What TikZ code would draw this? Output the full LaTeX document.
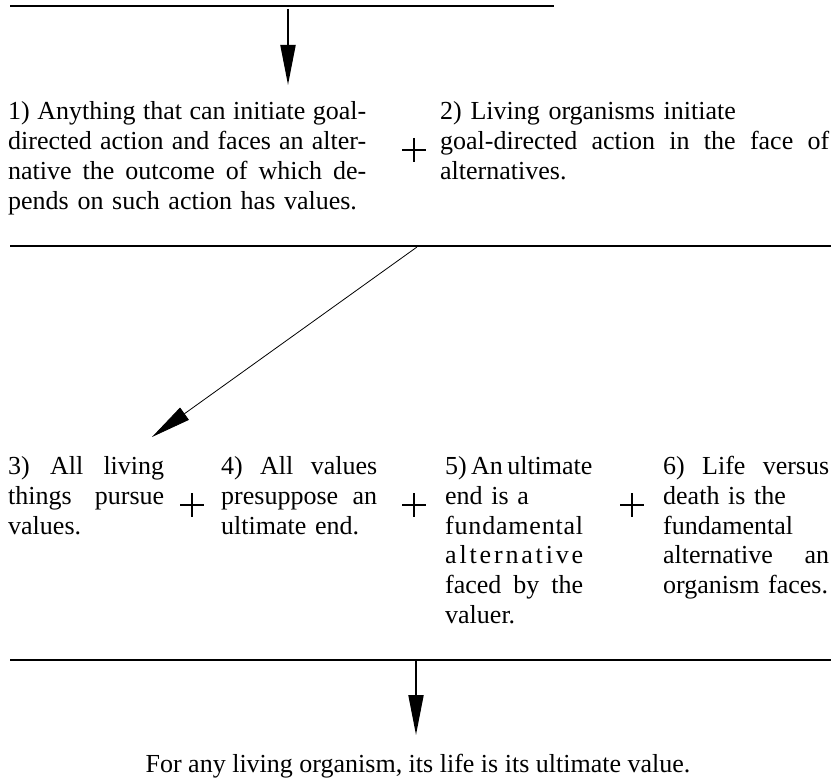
\documentclass[tikz,border=0pt]{standalone}
\usepackage{fontspec}
\setmainfont{Liberation Serif}
\usetikzlibrary{arrows.meta, positioning}

\newcommand{\jl}[1]{\makebox[\hsize][s]{\spaceskip=0pt\xspaceskip=0pt #1}}

\begin{document}
\begin{tikzpicture}[x=1pt, y=-1pt,
      t/.style={anchor=base west, inner sep=0pt, align=left, font=\fontsize{26}{30}\selectfont},
      bar/.style={line width=2pt},
      arr/.style={line width=2pt, -{Triangle[length=40pt,width=15pt]}},
      pl/.style={line width=1.8pt}]
      \useasboundingbox (0,0) rectangle (831,778);

      \draw[bar] (10,6) coordinate (b1l) -- (554,6) coordinate (b1r);
      \draw node[t, text width=358pt] (p1) at (8,120) {\jl{1) Anything that can initiate goal-}\\
        \jl{directed action and faces an alter-}\\
        \jl{native the outcome of which de-}\\
        pends on such action has values.};
      \draw node[t, text width=389pt] (p2) at (440,120) {2) Living organisms initiate\\
        \jl{goal-directed action in the face of}\\
        alternatives.};
      \coordinate (a1) at (288,9);
      \coordinate (a1e) at (288,85);
      \draw[arr] (a1) -- (a1e);

      \draw[bar] (10,246) coordinate (b2l) -- (831,246) coordinate (b2r);
      \coordinate (a2) at (417,247);
      \coordinate (a2e) at (152,437);
      \draw[arr, line width=0.8pt] (a2) -- (a2e);

      \draw node[t, text width=156pt] (p3) at (8,474) {\jl{3) All living}\\
        \jl{things pursue}\\
        values.};
      \draw node[t, text width=156pt] (p4) at (221,474) {\jl{4) All values}\\
        \jl{presuppose an}\\
        ultimate end.};
      \draw node[t, text width=138pt] (p5) at (445,474) {\jl{5) An ultimate}\\
        end is a\\
        \jl{f\hfil u\hfil n\hfil d\hfil a\hfil m\hfil e\hfil n\hfil t\hfil a\hfil l}\\
        \jl{a\hfil l\hfil t\hfil e\hfil r\hfil n\hfil a\hfil t\hfil i\hfil v\hfil e}\\
        \jl{faced by the}\\
        valuer.};
      \draw node[t, text width=166pt] (p6) at (663,474) {\jl{6) Life versus}\\
        death is the\\
        fundamental\\
        \jl{alternative an}\\
        organism faces.};

      % plus signs
      \foreach \x/\y in {414/150, 192/505, 414/505, 632/505}
        \draw[pl] (\x-12,\y) -- (\x+12,\y) (\x,\y-12) -- (\x,\y+12);

      \draw[bar] (10,660) coordinate (b3l) -- (831,660) coordinate (b3r);
      \coordinate (a3) at (416,661);
      \coordinate (a3e) at (416,735);
      \draw[arr] (a3) -- (a3e);
      \draw node[t, anchor=base] (c) at (418,772) {For any living organism, its life is its ultimate value.};
\end{tikzpicture}
\end{document}
